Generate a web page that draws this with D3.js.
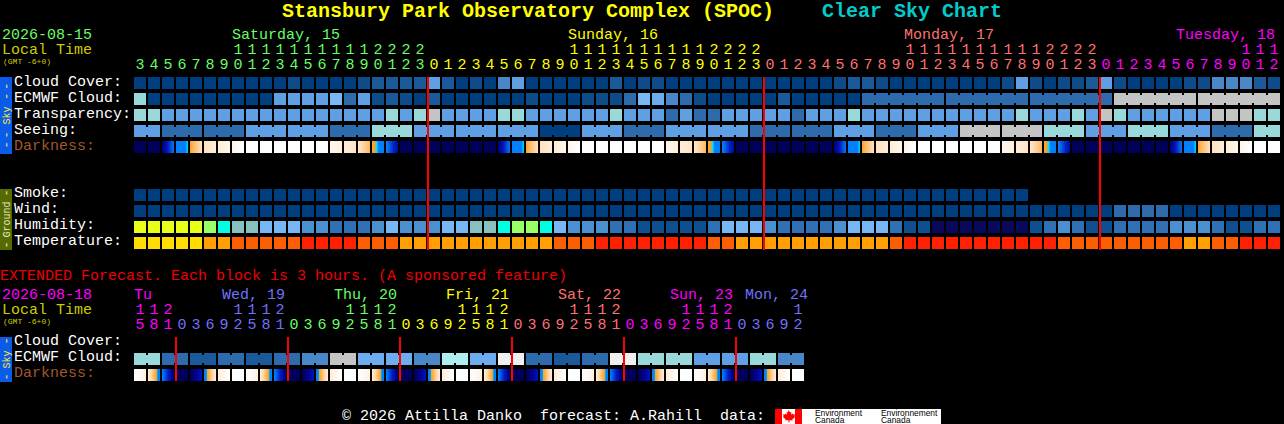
<!DOCTYPE html>
<html><head><meta charset="utf-8">
<script src="https://cdn.jsdelivr.net/npm/d3@7/dist/d3.min.js"></script>
<style>
html,body{margin:0;padding:0;background:#000;overflow:hidden}
svg{display:block}
text{font-family:"Liberation Mono",monospace;font-size:15px;white-space:pre}
</style></head><body><div id="chart"></div>
<script>
// ---------- data ----------
const siteTitle = "Stansbury Park Observatory Complex (SPOC)";
const chartTitle = "Clear Sky Chart";
const mainDate = "2026-08-15", extDate = "2026-08-18";
const skyLabels = ["Cloud Cover:", "ECMWF Cloud:", "Transparency:", "Seeing:", "Darkness:"];
const groundLabels = ["Smoke:", "Wind:", "Humidity:", "Temperature:"];
const extLabels = ["Cloud Cover:", "ECMWF Cloud:", "Darkness:"];

const hours = [3,4,5,6,7,8,9,10,11,12,13,14,15,16,17,18,19,20,21,22,23,
  0,1,2,3,4,5,6,7,8,9,10,11,12,13,14,15,16,17,18,19,20,21,22,23,
  0,1,2,3,4,5,6,7,8,9,10,11,12,13,14,15,16,17,18,19,20,21,22,23,
  0,1,2,3,4,5,6,7,8,9,10,11,12];
const dayOfHour = [0,0,0,0,0,0,0,0,0,0,0,0,0,0,0,0,0,0,0,0,0,
  1,1,1,1,1,1,1,1,1,1,1,1,1,1,1,1,1,1,1,1,1,1,1,1,
  2,2,2,2,2,2,2,2,2,2,2,2,2,2,2,2,2,2,2,2,2,2,2,2,
  3,3,3,3,3,3,3,3,3,3,3,3,3];
const dayNames = ["Saturday, 15","Sunday, 16","Monday, 17","Tuesday, 18"];
const dayColumns = [7,31,55,74.43];
const dayColors = ["#66ff66","#ffff00","#ff7070","#ff00ff"];

const extHours = [15,18,21,0,3,6,9,12,15,18,21,0,3,6,9,12,15,18,21,0,3,6,9,12,15,18,21,
  0,3,6,9,12,15,18,21,0,3,6,9,12,15,18,21,0,3,6,9,12];
const extDayOfHour = [0,0,0,1,1,1,1,1,1,1,1,2,2,2,2,2,2,2,2,3,3,3,3,3,3,3,3,
  4,4,4,4,4,4,4,4,5,5,5,5,5,5,5,5,6,6,6,6,6];
const extDayNames = ["Tu","Wed, 19","Thu, 20","Fri, 21","Sat, 22","Sun, 23","Mon, 24"];
const extDayColumns = [0,6.29,14.29,22.29,30.29,38.29,43.64];
const extDayColors = ["#ff00ff","#7070ff","#66ff66","#ffff00","#ff7070","#ff00ff","#7070ff"];

const skyPalette = ["#003f7f","#0e4b8a","#1b5a9a","#2d6bad","#4a87c9","#5f9fe3","#6eacf0","#7ab8f5",
  "#99d9d9","#c4c4c4","#f0f0f0","#aeeeee"];
const cloudCover = [0,0,0,0,0,0,0,0,0,0, 0,1,0,0,0,0,1,2,2,2, 2,5,2,0,1,0,4,5,0,0,
  0,0,0,0,2,0,1,1,0,0, 0,0,0,0,0,0,0,0,0,0, 1,2,2,1,0,0,0,0,0,0,
  0,0,1,5,1,0,1,1,2,5, 1,0,0,0,0,1,1,4,4,4, 2,1];
const ecmwfCloud = [8,0,0,0,0,0,0,0,0,0, 5,5,5,5,7,3,5,1,2,1, 0,2,0,0,0,0,0,0,1,0,
  0,0,1,1,1,3,7,6,4,3, 1,0,0,0,0,0,2,0,0,0, 0,0,3,3,3,3,3,3,3,3,
  3,3,3,3,3,3,3,3,3,3, 9,9,9,9,9,9,9,9,9,9, 9,9];
const ecmwfJoinedColumns = [53,54,55,56,57,59,60,61,62,63,65,66,67,68,69,71,72,73,74,75,77,78,79,80,81];
const transparency = [8,8,5,5,5,5,5,5,5,5, 5,5,5,5,5,5,5,5,8,5, 8,9,5,5,5,5,8,8,5,5,
  5,5,5,5,8,5,5,5,3,5, 3,3,5,5,5,5,5,3,5,5, 5,8,5,5,5,5,5,5,5,5,
  5,5,5,8,5,5,5,8,5,9, 8,5,5,5,5,5,5,9,9,9, 8,8];
const seeingSpans = [2,3,3,3,3,3,3,3,3,3,3,3,3,3,3,3,3,3,3,3,3,3,3,3,3,3,3,2];
const seeingGroups = [5,3,3,5,5,3,8,5,5,5,0,5,3,5,5,3,3,5,3,5,9,9,8,5,8,5,3,8];

const smoke = [0,0,0,0,0,0,0,0,0,0,0,0,0,0,0,0,0,0,0,0,0,0,0,0,0,0,0,0,0,0,0,0,
  0,0,0,0,0,0,0,0,0,0,0,0,0,0,0,0,0,0,0,0,0,0,0,0,0,0,0,0,0,0,0,0];
const wind = [0,0,0,0,0,0,0,0,0,0, 0,0,0,0,0,0,0,0,0,0, 0,0,0,0,0,0,0,0,0,0,
  0,0,0,0,0,0,0,0,0,0, 0,0,0,0,0,0,0,0,0,0, 0,0,0,0,0,0,0,0,0,0,
  0,0,0,0,0,0,0,0,0,0, 3,3,3,3,0,0,0,0,0,0, 0,0];
const humidityPalette = ["#e8ff18","#99ff66","#00ffe0","#88c0c0","#77b5f5","#4a8fd0","#3070b5","#0f4f90","#08085c"];
const humidity = [0,0,0,0,0,1,2,3,3,4, 4,4,5,5,6,6,6,5,4,5, 5,5,4,4,3,3,2,1,1,2,
  4,5,5,5,6,6,7,7,7,7, 7,6,4,4,4,5,6,6,6,6, 5,4,4,4,6,7,7,8,8,8,
  8,8,8,8,7,6,5,6,7,7, 6,6,6,6,5,5,5,6,7,7, 6,6];
const tempPalette = ["#ffdd00","#ffa000","#ff5e00","#ff2000"];
const temperature = [0,0,0,0,0,1,1,2,2,2, 2,2,3,3,3,3,2,2,2,1, 1,1,1,1,1,1,1,1,1,1,
  2,2,2,3,3,3,3,3,3,3, 3,2,2,1,1,1,1,1,1,1, 1,1,1,1,2,3,3,3,3,3,
  3,3,3,3,3,3,2,2,2,2, 2,2,2,2,2,1,1,2,2,3, 3,3];

// darkness level at the left and right edge of each block
const darkStops = [0,8,18,28,33,38.5,40,42,50,60,70,80];
const darkColors = ["#00005a","#000090","#0020c0","#0060e8","#0080ff","#0080ff","#00e0ff","#ffa01e","#ffc070","#ffe2c0","#fff3e6","#ffffff"];
const darkStart = [0,0,4,33,43,60,66,72,80,80, 80,80,80,80,72,66,62,44,34,0, 0,0,0,0,0,0,4,33,43,60,
  66,72,80,80,80,80,80,80,72,66, 62,44,34,0,0,0,0,0,0,0, 4,33,43,60,66,72,80,80,80,80,
  80,80,72,66,62,44,34,0,0,0, 0,0,0,0,4,33,43,60,66,72, 80,80];
const darkEnd = [0,0,32,40,60,66,72,80,80,80, 80,80,80,80,68,62,48,34,10,0, 0,0,0,0,0,0,32,40,60,66,
  72,80,80,80,80,80,80,80,68,62, 48,34,10,0,0,0,0,0,0,0, 32,40,60,66,72,80,80,80,80,80,
  80,80,68,62,48,34,10,0,0,0, 0,0,0,0,32,40,60,66,72,80, 80,80];
const extDarkStart = [80,66,34,0,0,32,66,80, 80,66,34,0,0,32,66,80, 80,66,34,0,0,32,66,80,
  80,66,34,0,0,32,66,80, 80,66,34,0,0,32,66,80, 80,66,34,0,0,32,66,80];
const extDarkEnd = [68,32,3,0,15,66,80,80, 68,32,3,0,15,66,80,80, 68,32,3,0,15,66,80,80,
  68,32,3,0,15,66,80,80, 68,32,3,0,15,66,80,80, 68,32,3,0,15,66,80,80];

const extEcmwfGroups = [8,3,2,3,2,3,4,9,6,6,4,11,6,10,3,2,3,10,8,8,5,5,8,4];
const extEcmwfSpans = [2,2,2,2,2,2,2,2,2,2,2,2,2,2,2,2,2,2,2,2,2,2,2,2];

const midnightColumns = [21,45,69];
const extMidnightColumns = [3,11,19,27,35,43];

// ---------- drawing ----------
const W = 1284, H = 424, BLOCK = 12;
const svg = d3.select("#chart").append("svg").attr("width",W).attr("height",H)
  .attr("viewBox",`0 0 ${W} ${H}`).style("background","#000");
const x = d3.scaleLinear().domain([0,1]).range([134,148]);
const y = d3.scaleLinear().domain([0,1]).range([77,93]);
const yGround = d3.scaleLinear().domain([0,1]).range([189,205]);
const yExt = d3.scaleLinear().domain([0,1]).range([337,353]);
const sky = d3.scaleOrdinal(d3.range(skyPalette.length), skyPalette);
const hum = d3.scaleOrdinal(d3.range(humidityPalette.length), humidityPalette);
const tmp = d3.scaleOrdinal(d3.range(tempPalette.length), tempPalette);
const dark = d3.scaleLinear().domain(darkStops).range(darkColors).interpolate(d3.interpolateRgb);

function row(top, values, color){
  svg.append("g").selectAll("rect").data(values).join("rect")
    .attr("x",(d,i)=>x(i)).attr("y",top).attr("width",BLOCK).attr("height",BLOCK)
    .attr("fill",d=>color(d));
}
function joints(top, cols, color){
  svg.append("g").selectAll("rect").data(cols).join("rect")
    .attr("x",d=>x(d.i)-2).attr("y",top+2).attr("width",2).attr("height",BLOCK-4)
    .attr("fill",d=>color(d.v));
}
function groupedRow(top, groups, spans, color){
  const values = [], js = [];
  groups.forEach((v,g)=>{
    for(let k=0;k<spans[g];k++){
      if(k>0) js.push({i:values.length,v});
      values.push(v);
    }
  });
  row(top,values,color);
  joints(top,js,color);
}
function darkRow(top, starts, ends){
  const g = svg.append("g");
  const px = d3.range(BLOCK);
  starts.forEach((s,i)=>{
    g.selectAll(null).data(px).join("rect")
      .attr("x",p=>x(i)+p).attr("y",top).attr("width",1.02).attr("height",BLOCK)
      .attr("fill",p=>dark(s+(ends[i]-s)*(p+.5)/BLOCK));
  });
}
function label(t,xp,yp,fill,opts={}){
  return svg.append("text").attr("x",xp).attr("y",yp).attr("fill",fill)
    .style("font-size",(opts.size||15)+"px")
    .style("font-weight",opts.weight||null).text(t);
}
function sideBar(y0,y1,fill,tcolor,word,dashes){
  svg.append("rect").attr("x",0).attr("y",y0).attr("width",12).attr("height",y1-y0).attr("fill",fill);
  const put=(t,c,sz)=>svg.append("text").attr("text-anchor","middle").attr("fill",tcolor)
    .attr("transform",`translate(9.5,${c}) rotate(-90)`).style("font-size",sz+"px").text(t);
  put(word,(y0+y1)/2,10);
  dashes.forEach(c=>put("-",c,12));
}
function hourRow(hs,days,colors,yT,yU){
  const g=svg.append("g").attr("text-anchor","middle");
  hs.forEach((h,i)=>{
    if(h>=10) g.append("text").attr("x",x(i)+6).attr("y",yT).attr("fill",colors[days[i]]).text(Math.floor(h/10));
    g.append("text").attr("x",x(i)+6).attr("y",yU).attr("fill",colors[days[i]]).text(h%10);
  });
}

// titles
label(siteTitle,282,17,"#ffff00",{size:20,weight:"bold"});
label(chartTitle,822,17,"#00cccc",{size:20,weight:"bold"});

// main header
label(mainDate,2,39,dayColors[0]);
label("Local Time",2,54,"#cccc00");
label("(GMT -6+0)",3,64,"#cccc00",{size:8});
dayNames.forEach((n,i)=>label(n,x(dayColumns[i]),39,dayColors[i]));
hourRow(hours,dayOfHour,dayColors,54,69);

// row labels
const labelColor=t=>t==="Darkness:"?"#a0572d":"#ffffff";
skyLabels.forEach((t,i)=>label(t,14,y(i)+9,labelColor(t)));
groundLabels.forEach((t,i)=>label(t,14,yGround(i)+8,labelColor(t)));
extLabels.forEach((t,i)=>label(t,14,yExt(i)+8,labelColor(t)));

// main rows
row(y(0),cloudCover,sky);
row(y(1),ecmwfCloud,sky);
joints(y(1),ecmwfJoinedColumns.map(i=>({i,v:ecmwfCloud[i]})),sky);
row(y(2),transparency,sky);
groupedRow(y(3),seeingGroups,seeingSpans,sky);
darkRow(y(4),darkStart,darkEnd);
row(yGround(0),smoke,sky);
row(yGround(1),wind,sky);
row(yGround(2),humidity,hum);
row(yGround(3),temperature,tmp);

svg.append("g").selectAll("line").data(midnightColumns).join("line")
  .attr("x1",d=>x(d)).attr("x2",d=>x(d)).attr("y1",y(0)).attr("y2",yGround(3)+13)
  .attr("stroke","#ff0000").attr("stroke-width",2);

sideBar(77,154,"#0a5ce8","#ffee33","Sky",[86.5,96.5,135,145]);
sideBar(189,250,"#556b00","#e8e8c8","Ground",[193,245]);

// extended
label("EXTENDED Forecast. Each block is 3 hours. (A sponsored feature)",0,280,"#ee0000");
label(extDate,2,299,extDayColors[0]);
label("Local Time",2,314,"#cccc00");
label("(GMT -6+0)",3,324,"#cccc00",{size:8});
extDayNames.forEach((n,i)=>label(n,x(extDayColumns[i]),299,extDayColors[i]));
hourRow(extHours,extDayOfHour,extDayColors,314,329);
groupedRow(yExt(1),extEcmwfGroups,extEcmwfSpans,sky);
darkRow(yExt(2),extDarkStart,extDarkEnd);
svg.append("g").selectAll("line").data(extMidnightColumns).join("line")
  .attr("x1",d=>x(d)).attr("x2",d=>x(d)).attr("y1",yExt(0)).attr("y2",yExt(2)+12)
  .attr("stroke","#ff0000").attr("stroke-width",2);
sideBar(337,382,"#0a5ce8","#ffee33","Sky",[341,377]);

// footer
label("\u00a9 2026 Attilla Danko  forecast: A.Rahill  data:",342,420,"#ffffff");
svg.append("rect").attr("x",775).attr("y",409).attr("width",166).attr("height",15).attr("fill","#fff");
svg.append("rect").attr("x",775).attr("y",409).attr("width",7).attr("height",15).attr("fill","#ff0000");
svg.append("rect").attr("x",795).attr("y",409).attr("width",7).attr("height",15).attr("fill","#ff0000");
svg.append("path").attr("fill","#ff0000")
  .attr("d","M788.5 410l1.6 2.4 1.4-.6-.6 3 1.6-1.4.6 1.2 1.9-.3-.7 2 .9.7-2.8 2.2.3 1.2-3-.4-.2 2.2h-1l-.2-2.2-3 .4.3-1.2-2.8-2.2.9-.7-.7-2 1.9.3.6-1.2 1.6 1.4-.6-3 1.4.6z");
[["Environment",815,415.5],["Canada",815,423],["Environnement",881,415.5],["Canada",881,423]].forEach(a=>{
  svg.append("text").attr("x",a[1]).attr("y",a[2]).attr("fill","#000")
    .style("font-family","'Liberation Sans',sans-serif").style("font-size","8.4px").text(a[0]);
});
</script>
</body></html>
